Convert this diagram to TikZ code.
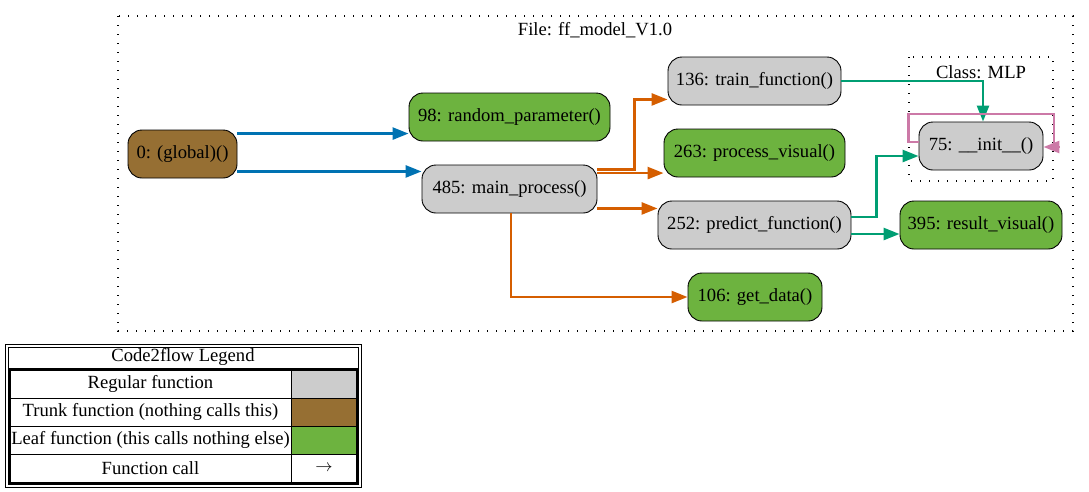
\documentclass[tikz,border=0pt]{standalone}
\usepackage{fontspec}
\setmainfont{Liberation Serif}
\usetikzlibrary{arrows.meta}

\definecolor{regular}{HTML}{CCCCCC}
\definecolor{trunk}{HTML}{966F33}
\definecolor{leaf}{HTML}{6DB33F}
\definecolor{callblue}{HTML}{0072B2}
\definecolor{callorange}{HTML}{D55E00}
\definecolor{callgreen}{HTML}{009E73}
\definecolor{callpink}{HTML}{CC79A7}

\tikzset{
  fn/.style={draw, line width=0.9pt, rounded corners=14pt, minimum height=48pt,
    inner xsep=2pt, font=\fontsize{18.6}{20}\selectfont},
  call/.style={line width=2.6pt, -{Triangle[length=16pt,width=12pt]}},
  cluster/.style={line width=1.2pt, dash pattern=on 1.2pt off 7.8pt},
  lbl/.style={font=\fontsize{18.6}{20}\selectfont, inner sep=0pt},
}

\begin{document}
\begin{tikzpicture}[x=1pt, y=-1pt]
		%%%%% START %%%%%
		\useasboundingbox (0, 0) rectangle (1089, 491);
		
		% file cluster
		\draw[cluster] (118, 16) rectangle (1073, 331);
		\node[lbl] (filelbl) at (595, 30) {File: ff\_model\_V1.0};
		
		% class cluster
		\draw[cluster] (909, 57) rectangle (1053, 181);
		\node[lbl] (mlplbl) at (981, 72) {Class: MLP};
		
		\node[fn, fill=trunk, minimum width=109pt] (global) at (182.5, 154) {0: (global)()};
		\node[fn, fill=leaf, minimum width=201pt] (random) at (509.5, 117) {98: random\_parameter()};
		\node[fn, fill=regular, minimum width=175pt] (main) at (509.5, 189) {485: main\_process()};
		\node[fn, fill=regular, minimum width=173pt] (train) at (754.5, 81) {136: train\_function()};
		\node[fn, fill=leaf, minimum width=181pt] (visual) at (754.5, 153) {263: process\_visual()};
		\node[fn, fill=regular, minimum width=193pt] (predict) at (754.5, 225) {252: predict\_function()};
		\node[fn, fill=leaf, minimum width=134pt] (getdata) at (755, 297) {106: get\_data()};
		\node[fn, fill=regular, minimum width=124pt] (init) at (981, 146) {75: \_\_init\_\_()};
		\node[fn, fill=leaf, minimum width=162pt] (result) at (981, 225) {395: result\_visual()};
		
		% calls from global
		\draw[call, callblue] ([yshift=-4pt]global.north east) -- ([yshift=-4pt]global.north east -| random.west);
		\draw[call, callblue] ([yshift=7pt]global.south east) -- ([yshift=7pt]global.south east -| main.west);
		
		% calls from main_process
		\draw[call, callorange] ([yshift=-5pt]main.north east) -- ++(37, 0) |- ([yshift=6pt]train.south west);
		\draw[call, callorange] ([yshift=-8.5pt]main.north east) -- ([yshift=-8.5pt]main.north east -| visual.west);
		\draw[call, callorange] ([yshift=5pt]main.south east) -- ([yshift=5pt]main.south east -| predict.west);
		\draw[call, callorange] ([xshift=1.5pt]main.south) |- (getdata.west);
		
		% calls into the class
		\draw[call, callgreen] (train.east) -| ([xshift=2pt]init.north);
		\draw[call, callgreen] ([yshift=8pt]predict.east) -- ++(25, 0) |- ([yshift=-10pt]init.west);
		\draw[call, callgreen] ([yshift=-9pt]predict.east) -- ([yshift=-9pt]predict.east -| result.west);
		
		% self call
		\draw[line width=2.6pt, callpink] ([yshift=4pt]init.west) -- ++(-10, 0) -- ++(0, -28) -- (1054, 114) -- (1054, 147);
		\draw[call, callpink] (1059, 147) -- ([yshift=-1pt]init.east);
		
		% legend
		\draw[line width=0.8pt] (5, 344) rectangle (361, 487);
		\draw[line width=0.8pt] (8, 347) rectangle (358, 484);
		\node[lbl] (lgtitle) at (183, 357) {Code2flow Legend};
		\draw[line width=0.8pt] (8, 368) -- (358, 368);
		\draw[fill=regular, draw=none] (291, 370) rectangle (357, 398);
		\draw[fill=trunk, draw=none] (291, 398) rectangle (357, 426);
		\draw[fill=leaf, draw=none] (291, 426) rectangle (357, 454);
		\draw[line width=2pt] (10, 370) rectangle (357, 483);
		\draw[line width=0.8pt] (10, 398) -- (357, 398);
		\draw[line width=0.8pt] (10, 426) -- (357, 426);
		\draw[line width=0.8pt] (10, 454) -- (357, 454);
		\draw[line width=0.8pt] (291, 370) -- (291, 483);
		\node[lbl] (lgreg) at (150.5, 384) {Regular function};
		\node[lbl] (lgtrunk) at (150.5, 412) {Trunk function (nothing calls this)};
		\node[lbl] (lgleaf) at (150.5, 440) {Leaf function (this calls nothing else)};
		\node[lbl] (lgcall) at (150.5, 468) {Function call};
		\node[lbl] (lgarrow) at (324, 468) {$\rightarrow$};
		
		%%%%% END %%%%%
\end{tikzpicture}
\end{document}
